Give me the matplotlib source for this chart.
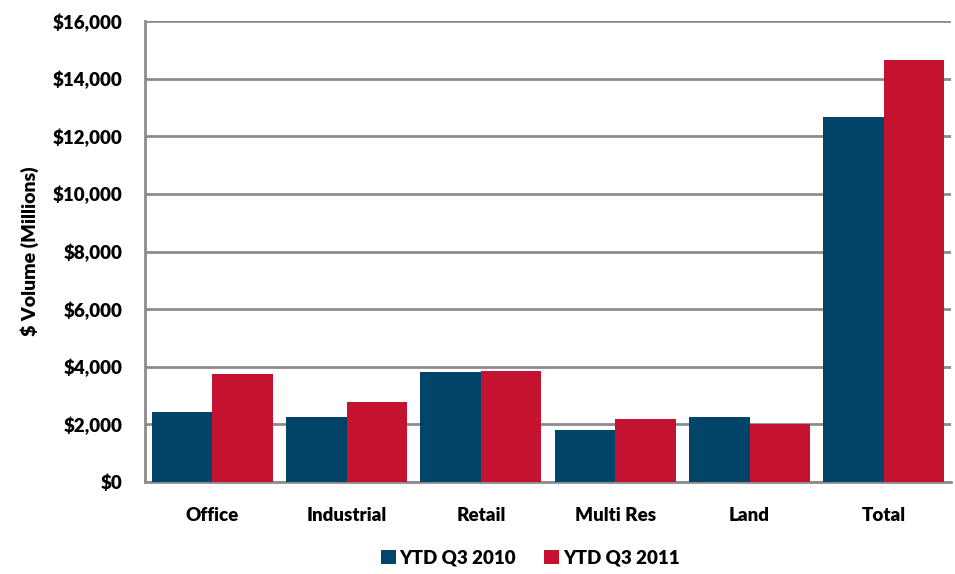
import matplotlib
matplotlib.use("Agg")
import matplotlib.pyplot as plt
import numpy as np
from matplotlib.ticker import FuncFormatter

categories = ["Office", "Industrial", "Retail", "Multi Res", "Land", "Total"]
ytd_2010 = [2414, 2261, 3816, 1798, 2261, 12661]
ytd_2011 = [3746, 2762, 3850, 2181, 2017, 14657]
series_labels = ["YTD Q3 2010", "YTD Q3 2011"]

plt.rcParams['font.family'] = ['Lato', 'DejaVu Sans']
plt.rcParams['font.weight'] = 'heavy'
plt.rcParams['axes.labelweight'] = 'heavy'

fig = plt.figure(figsize=(9.55, 5.74), dpi=100)
ax = fig.add_axes([145/955, 1-482/574, (951-145)/955, (482-21)/574])

x = np.arange(len(categories))
w = 0.45
blue = "#00446A"
red = "#C41230"
b1 = ax.bar(x - w/2, ytd_2010, w, color=blue, label=series_labels[0], zorder=3)
b2 = ax.bar(x + w/2, ytd_2011, w, color=red, label=series_labels[1], zorder=3)

ax.set_xlim(-0.5, len(categories) - 0.5)
ax.set_ylim(0, 16000)
ax.set_yticks(np.arange(0, 16001, 2000))
ax.yaxis.set_major_formatter(FuncFormatter(lambda v, p: f"${int(v):,}"))
ax.set_xticks(x)
ax.set_xticklabels(categories)
ax.grid(axis='y', color='#8c8c8c', linewidth=2, zorder=0)
ax.set_axisbelow(True)
for s in ['top', 'right']:
    ax.spines[s].set_visible(False)
for s in ['left', 'bottom']:
    ax.spines[s].set_color('#8c8c8c')
    ax.spines[s].set_linewidth(2)
ax.tick_params(axis='both', length=0, labelsize=13.5)
for lbl in ax.get_xticklabels() + ax.get_yticklabels():
    lbl.set_fontweight('heavy')
ax.tick_params(axis='y', pad=16)
ax.tick_params(axis='x', pad=18)
ax.set_ylabel("$ Volume (Millions)", fontsize=14, fontweight='heavy', labelpad=10)

leg = fig.legend(handles=[b1, b2], labels=series_labels, loc='center', bbox_to_anchor=(530/955, 1-558/574),
           ncol=2, frameon=False, fontsize=13.5, handlelength=0.8, handleheight=0.8,
           handletextpad=0.2, columnspacing=1.5, prop={'weight': 'heavy', 'size': 13.5})

fig.savefig("out.png", dpi=100)
